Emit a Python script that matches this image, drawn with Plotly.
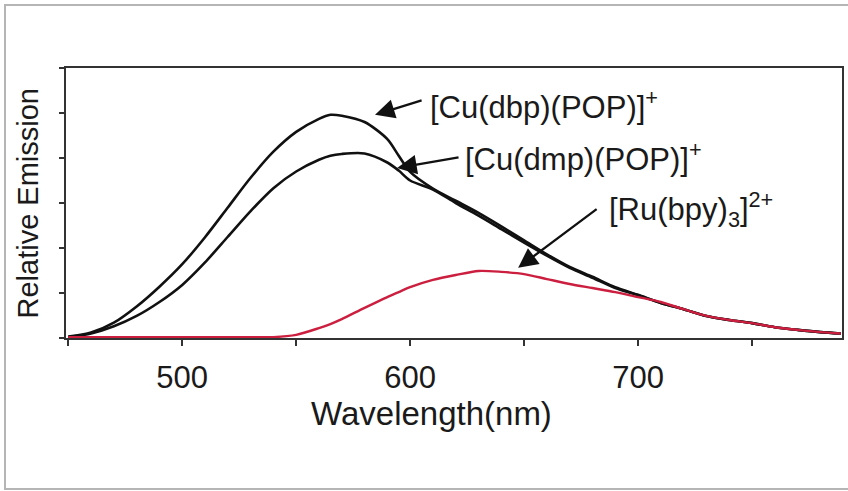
import plotly.graph_objects as go

# Wavelength grid (nm)
wavelength = [450, 460, 470, 480, 490, 500, 510, 520, 530, 540, 550, 560, 565, 570, 580, 590, 595,
              600, 610, 620, 630, 640, 650, 660, 670, 680, 690, 700, 710, 720, 730, 740, 750,
              760, 770, 780, 789]

cu_dbp = [0.03, 0.12, 0.34, 0.70, 1.14, 1.64, 2.24, 2.90, 3.56, 4.14, 4.58, 4.87, 4.96, 4.94, 4.80, 4.42, 4.05,
          3.69, 3.32, 3.05, 2.78, 2.48, 2.17, 1.86, 1.58, 1.36, 1.13, 0.96, 0.78, 0.64, 0.49, 0.40, 0.33,
          0.24, 0.18, 0.13, 0.10]

cu_dmp = [0.02, 0.10, 0.26, 0.49, 0.80, 1.18, 1.68, 2.25, 2.82, 3.33, 3.70, 3.96, 4.05, 4.09, 4.10, 3.90, 3.72,
          3.50, 3.30, 3.00, 2.72, 2.42, 2.12, 1.83, 1.56, 1.34, 1.11, 0.95, 0.78, 0.64, 0.49, 0.40, 0.33,
          0.24, 0.18, 0.13, 0.10]

ru_bpy = [0.02, 0.02, 0.02, 0.02, 0.02, 0.02, 0.02, 0.02, 0.02, 0.02, 0.07, 0.22, 0.31, 0.42, 0.67, 0.91, 1.02,
          1.13, 1.29, 1.40, 1.49, 1.47, 1.42, 1.31, 1.20, 1.11, 1.02, 0.91, 0.80, 0.64, 0.49, 0.40, 0.33,
          0.24, 0.18, 0.13, 0.10]

x_tick_vals = [500, 600, 700]
x_tick_text = ["500", "600", "700"]
x_minor_vals = [450, 550, 650, 750]
y_tick_vals = [0, 1, 2, 3, 4, 5, 6]

x_title = "Wavelength(nm)"
y_title = "Relative Emission"

labels = ["[Cu(dbp)(POP)]<sup>+</sup>", "[Cu(dmp)(POP)]<sup>+</sup>", "[Ru(bpy)<sub>3</sub>]<sup>2+</sup>"]
label_pos = [(607.9, 5.17), (623.2, 4.02), (686.4, 2.86)]
arrow_tip = [(584.6, 4.96), (594.3, 3.78), (647.4, 1.56)]
arrow_tail = [(605.7, 5.29), (621.9, 4.02), (682.5, 2.89)]

FONT = "Liberation Sans, Arial, Helvetica, sans-serif"
TXT = "#1a1a1a"
AX = "#333333"

fig = go.Figure()
fig.add_trace(go.Scatter(x=wavelength, y=cu_dbp, mode="lines", line=dict(color="#111111", width=2.6, shape="spline", smoothing=0.8), showlegend=False))
fig.add_trace(go.Scatter(x=wavelength, y=cu_dmp, mode="lines", line=dict(color="#111111", width=2.6, shape="spline", smoothing=0.8), showlegend=False))
fig.add_trace(go.Scatter(x=wavelength, y=ru_bpy, mode="lines", line=dict(color="#cc1f3f", width=2.4, shape="spline", smoothing=0.8), showlegend=False))

for txt, (lx, ly) in zip(labels, label_pos):
    fig.add_annotation(x=lx, y=ly, xref="x", yref="y", text=txt, showarrow=False,
                       xanchor="left", yanchor="middle", font=dict(family=FONT, size=31, color=TXT))

for (tx, ty), (sx, sy) in zip(arrow_tip, arrow_tail):
    fig.add_annotation(x=tx, y=ty, ax=sx, ay=sy, xref="x", yref="y", axref="x", ayref="y",
                       text="", showarrow=True, arrowhead=2, arrowsize=1.7, arrowwidth=2.3,
                       arrowcolor="#111111", standoff=0)

# axis titles
fig.add_annotation(x=0.4704, y=-0.278, xref="paper", yref="paper", text=x_title, showarrow=False,
                   xanchor="center", yanchor="middle", font=dict(family=FONT, size=33, color=TXT))
fig.add_annotation(x=-0.049, y=0.498, xref="paper", yref="paper", text=y_title, showarrow=False,
                   textangle=-90, xanchor="center", yanchor="middle", font=dict(family=FONT, size=29, color=TXT))

# outer scanned-figure frame (open on the right, where it runs off the page)
fig.add_shape(type="path", xref="paper", yref="paper",
              path="M 1.02,1.233 L -0.0786,1.233 L -0.0786,-0.559 L 1.02,-0.559",
              line=dict(color="#b5b5b5", width=2))

fig.update_layout(
    width=848, height=491, autosize=False,
    margin=dict(l=66, r=6, t=68, b=153),
    paper_bgcolor="white", plot_bgcolor="white",
    font=dict(family=FONT, color=TXT),
    xaxis=dict(range=[449, 789.5], tickmode="array", tickvals=x_tick_vals, ticktext=x_tick_text,
               ticks="outside", ticklen=6, tickwidth=2, tickcolor=AX, ticklabelstandoff=5,
               minor=dict(tickmode="array", tickvals=x_minor_vals, ticks="outside", ticklen=6, tickwidth=2, tickcolor=AX),
               showline=True, linecolor=AX, linewidth=2, mirror=True,
               showgrid=False, zeroline=False, automargin=False,
               tickfont=dict(family=FONT, size=31, color=TXT)),
    yaxis=dict(range=[0, 6], tickmode="array", tickvals=y_tick_vals, showticklabels=False,
               ticks="outside", ticklen=5, tickwidth=2, tickcolor=AX,
               showline=True, linecolor=AX, linewidth=2, mirror=True,
               showgrid=False, zeroline=False, automargin=False),
)

post = ("document.body.style.margin='0';document.body.style.padding='0';"
        "document.body.style.overflow='hidden';"
        "var gd=document.getElementById('{plot_id}');"
        "Plotly.relayout(gd,{width:848,height:491});")

fig.write_html("out.html", post_script=post, config={"displayModeBar": False})
